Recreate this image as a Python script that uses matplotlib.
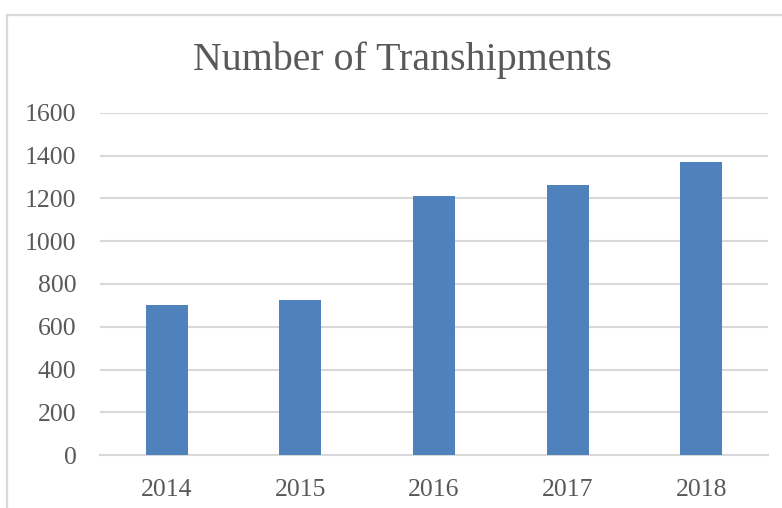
import matplotlib
matplotlib.use("Agg")
import matplotlib.pyplot as plt
from matplotlib.lines import Line2D

years = ["2014", "2015", "2016", "2017", "2018"]
transhipments = [704, 726, 1214, 1261, 1371]
y_ticks = [0, 200, 400, 600, 800, 1000, 1200, 1400, 1600]

TEXT = "#595959"
GRID = "#D9D9D9"
BAR = "#4F81BD"

plt.rcParams["font.family"] = ["Liberation Serif", "DejaVu Serif"]

fig = plt.figure(figsize=(7.82, 5.08), dpi=100)
ax = fig.add_axes([100 / 782, 1 - 455 / 508, 668 / 782, 342 / 508])

ax.bar(range(len(years)), transhipments, width=0.315, color=BAR, zorder=3)

ax.set_xlim(-0.5, len(years) - 0.5)
ax.set_ylim(0, 1600)
ax.set_yticks(y_ticks)
ax.set_xticks(range(len(years)))
ax.set_xticklabels(years)
ax.yaxis.grid(True, color=GRID, linewidth=1.5, zorder=0)
ax.tick_params(axis="both", length=0, labelsize=18.5, labelcolor=TEXT)
ax.tick_params(axis="y", pad=17)
ax.tick_params(axis="x", pad=17)
for side in ["top", "right", "left"]:
    ax.spines[side].set_visible(False)
ax.spines["bottom"].set_color(GRID)
ax.spines["bottom"].set_linewidth(1.5)

fig.text(402 / 782, 1 - 60 / 508, "Number of Transhipments", ha="center",
         va="center", fontsize=28.7, color=TEXT)

# chart frame, cropped at right and bottom
fig.add_artist(Line2D([7 / 782, 7 / 782], [0, 1 - 15 / 508], color=GRID, linewidth=1.6))
fig.add_artist(Line2D([7 / 782, 1], [1 - 15 / 508, 1 - 15 / 508], color=GRID, linewidth=1.6))

fig.savefig("out.png", dpi=100)
